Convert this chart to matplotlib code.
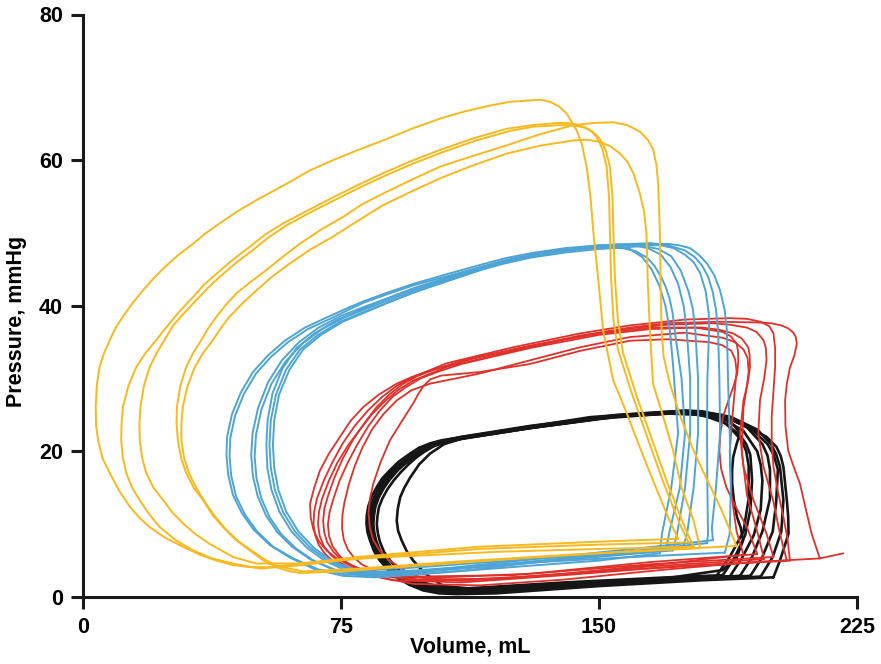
"""
Pressure-volume loops, four conditions overlaid.
"""

import matplotlib
matplotlib.use("Agg")
import matplotlib.pyplot as plt

# ── Axis setup ──────────────────────────────────────────────────────────────
X_TICKS = [0, 75, 150, 225]
Y_TICKS = [0, 20, 40, 60, 80]
X_LABEL = "Volume, mL"
Y_LABEL = "Pressure, mmHg"

# ── Loops, (volume mL, pressure mmHg) ───────────────────────────────────────
yellow_loops = [
    [(173.0, 8.0), (170.5, 10.5), (165.7, 16.0), (161.5, 21.0), (158.1, 25.2), (154.1, 29.8),
     (151.2, 36.6), (149.8, 43.5), (148.4, 49.9), (147.5, 55.0), (146.4, 59.1), (145.0, 62.2),
     (143.5, 64.1), (140.6, 66.4), (138.3, 67.4), (135.8, 68.0), (133.0, 68.3), (130.0, 68.2),
     (124.0, 68.0), (118.3, 67.5), (111.0, 66.7), (103.8, 65.7), (95.5, 64.3), (87.2, 62.7),
     (80.0, 61.4), (72.7, 60.0), (66.0, 58.6), (60.1, 57.0), (50.4, 54.5), (45.0, 53.0),
     (39.7, 51.3), (35.5, 49.9), (32.0, 48.5), (27.5, 46.9), (23.3, 45.1), (20.2, 43.6),
     (17.4, 42.1), (14.3, 40.3), (11.6, 38.5), (9.5, 37.0), (7.8, 35.3), (6.1, 33.5),
     (4.8, 31.6), (4.0, 29.0), (3.7, 26.1), (3.8, 23.6), (4.4, 21.5), (5.7, 19.0),
     (7.8, 17.0), (10.5, 14.6), (13.6, 12.4), (16.4, 10.9), (19.4, 9.6), (24.0, 8.1),
     (29.1, 6.9), (34.0, 5.8), (38.8, 5.0), (43.5, 4.4), (48.5, 4.1), (54.0, 4.1),
     (60.0, 4.4), (80.0, 5.5), (115.0, 6.9), (150.0, 7.6), (173.0, 8.0)],
    [(176.0, 7.5), (173.5, 10.0), (168.5, 16.0), (164.0, 22.0), (159.5, 28.0), (155.5, 34.0),
     (154.2, 38.0), (153.5, 44.0), (153.2, 49.9), (152.9, 55.0), (152.2, 59.1), (151.0, 61.5),
     (149.3, 63.2), (147.2, 64.2), (144.5, 64.8), (141.0, 65.1), (137.7, 65.1), (130.5, 64.8),
     (123.2, 64.3), (113.5, 63.0), (103.8, 61.4), (95.5, 59.9), (87.2, 58.2), (80.0, 56.6),
     (72.7, 54.9), (65.0, 53.0), (58.1, 51.3), (53.0, 49.8), (48.5, 48.1), (43.5, 46.3),
     (38.8, 44.4), (35.2, 42.9), (32.0, 41.2), (28.4, 39.4), (25.2, 37.6), (23.1, 36.4),
     (21.3, 35.3), (18.2, 33.5), (15.5, 31.6), (13.2, 29.0), (11.6, 26.1), (11.2, 23.8),
     (11.1, 21.5), (11.6, 19.1), (12.6, 17.0), (14.3, 15.0), (16.5, 13.3), (19.2, 11.4),
     (22.3, 9.6), (27.0, 7.8), (32.0, 6.4), (37.5, 5.3), (43.6, 4.6), (51.4, 3.9),
     (62.0, 4.3), (80.0, 5.3), (115.0, 6.6), (150.0, 7.2), (176.0, 7.5)],
    [(177.5, 6.9), (175.0, 9.5), (170.0, 15.5), (165.5, 21.5), (161.0, 27.5), (157.0, 33.5),
     (155.5, 38.0), (154.6, 44.0), (154.2, 50.0), (153.9, 55.0), (153.2, 59.0), (152.0, 61.3),
     (150.3, 62.9), (148.2, 63.9), (145.5, 64.5), (142.0, 64.8), (138.5, 64.8), (131.0, 64.6),
     (124.0, 64.0), (114.3, 62.7), (104.6, 61.1), (96.3, 59.6), (88.0, 57.9), (80.7, 56.3),
     (73.5, 54.6), (66.0, 52.8), (59.0, 51.0), (54.0, 49.4), (49.5, 47.7), (44.5, 45.9),
     (39.8, 44.0), (36.2, 42.4), (33.0, 40.8), (29.4, 39.0), (26.2, 37.3), (23.7, 35.3),
     (21.4, 33.5), (19.4, 31.6), (17.7, 29.0), (16.7, 26.1), (16.4, 23.8), (16.5, 21.5),
     (17.2, 19.1), (18.4, 17.0), (20.5, 15.0), (23.3, 13.3), (26.0, 11.6), (29.1, 10.1),
     (32.8, 8.6), (36.8, 7.3), (43.6, 5.5), (50.4, 4.6), (62.0, 4.6), (85.0, 5.4),
     (120.0, 6.2), (150.0, 6.6), (177.5, 6.9)],
    [(190.0, 7.0), (185.2, 12.4), (181.0, 16.5), (177.4, 20.2), (173.5, 25.0), (170.6, 29.3),
     (168.8, 33.0), (168.2, 36.6), (167.9, 43.0), (167.7, 49.9), (167.4, 54.0), (167.2, 56.8),
     (166.7, 59.3), (165.8, 61.4), (164.2, 62.8), (161.9, 63.9), (158.3, 64.8), (154.2, 65.2),
     (148.5, 65.1), (142.5, 64.8), (132.5, 63.5), (123.0, 62.0), (113.5, 60.6), (103.8, 59.1),
     (95.5, 57.3), (87.2, 55.4), (81.0, 53.9), (75.6, 52.2), (69.0, 50.4), (63.0, 48.5),
     (58.0, 46.7), (53.3, 44.9), (48.8, 43.3), (44.6, 41.7), (41.5, 40.1), (38.8, 38.5),
     (36.4, 36.9), (34.4, 35.3), (32.0, 33.5), (30.0, 31.6), (28.3, 29.0), (27.3, 26.1),
     (27.2, 23.8), (27.6, 21.5), (28.5, 19.1), (30.0, 17.0), (32.2, 15.0), (34.9, 13.3),
     (37.6, 11.3), (40.7, 9.6), (44.3, 7.9), (48.5, 6.4), (52.2, 5.1), (56.2, 4.1),
     (59.5, 3.6), (63.0, 3.3), (75.0, 3.5), (100.0, 4.4), (130.0, 5.4), (160.0, 6.3),
     (190.0, 7.0)],
    [(179.4, 6.7), (177.5, 10.5), (174.0, 15.0), (171.5, 20.2), (168.5, 25.0), (165.7, 29.3),
     (164.8, 36.6), (164.2, 43.0), (163.8, 49.9), (163.1, 52.9), (161.9, 55.4), (160.0, 58.2),
     (158.2, 59.8), (156.1, 60.9), (153.3, 61.9), (150.3, 62.5), (146.5, 62.8), (142.5, 62.7),
     (133.0, 62.0), (123.2, 60.9), (113.5, 59.3), (103.8, 57.5), (95.5, 55.7), (87.2, 53.8),
     (80.0, 51.7), (72.7, 49.5), (66.0, 47.7), (60.1, 45.8), (55.0, 44.0), (50.4, 42.1),
     (46.3, 40.3), (42.6, 38.5), (40.0, 36.9), (37.8, 35.3), (34.9, 33.5), (32.5, 31.6),
     (30.4, 29.0), (29.0, 26.1), (28.6, 23.8), (28.6, 21.5), (29.4, 19.1), (30.8, 17.0),
     (33.0, 14.9), (35.5, 13.0), (38.3, 11.1), (41.5, 9.3), (45.3, 7.6), (49.5, 6.2),
     (53.3, 5.0), (57.0, 4.2), (64.0, 3.5), (80.0, 3.9), (110.0, 4.9), (145.0, 5.9),
     (179.4, 6.7)],
]

blue_loops = [
    [(167.7, 6.0), (168.3, 8.7), (171.0, 15.0), (173.0, 22.5), (171.5, 32.0), (170.6, 36.6),
     (169.3, 40.0), (167.5, 42.8), (165.3, 45.0), (162.5, 46.7), (159.0, 47.8), (155.0, 48.3),
     (150.0, 48.3), (140.0, 47.9), (130.0, 47.2), (122.5, 46.5), (115.4, 45.6), (105.5, 44.3),
     (96.0, 43.0), (88.5, 41.8), (81.5, 40.6), (76.5, 39.6), (71.8, 38.6), (64.5, 37.0),
     (58.7, 35.2), (53.8, 33.2), (49.4, 30.9), (45.9, 28.1), (43.3, 25.1), (41.9, 22.0),
     (41.7, 19.5), (42.2, 16.8), (43.6, 14.0), (46.2, 11.5), (49.7, 9.2), (54.4, 7.1),
     (60.2, 5.4), (67.4, 3.8), (75.6, 2.9), (85.0, 2.7), (100.0, 3.2), (130.0, 4.3),
     (150.0, 5.0), (167.7, 6.0)],
    [(171.5, 6.4), (172.7, 8.7), (175.0, 15.0), (176.5, 22.5), (176.5, 30.0), (175.5, 36.6),
     (174.6, 40.0), (173.0, 43.0), (170.8, 45.3), (168.0, 47.0), (164.3, 47.9), (160.0, 48.3),
     (150.0, 48.1), (140.0, 47.6), (130.0, 47.0), (122.5, 46.2), (115.4, 45.3), (105.5, 44.0),
     (96.0, 42.8), (88.5, 41.6), (81.5, 40.4), (77.0, 39.4), (72.7, 38.4), (65.4, 36.8),
     (59.6, 35.0), (54.7, 33.0), (50.3, 30.7), (46.8, 27.9), (44.2, 24.9), (42.8, 21.8),
     (42.6, 19.3), (43.1, 16.6), (44.5, 13.8), (47.1, 11.3), (50.6, 9.0), (55.3, 6.9),
     (61.1, 5.3), (68.3, 3.8), (76.5, 3.1), (85.0, 3.0), (100.0, 3.5), (130.0, 4.7),
     (171.5, 6.4)],
    [(174.4, 6.8), (175.6, 8.7), (177.5, 15.0), (178.8, 22.5), (178.8, 30.0), (178.0, 36.6),
     (177.3, 39.5), (176.0, 42.0), (173.8, 44.8), (171.0, 46.8), (167.3, 47.8), (163.0, 48.2),
     (150.0, 47.8), (140.0, 47.3), (130.0, 46.6), (122.5, 45.8), (115.0, 44.9), (105.5, 43.6),
     (96.0, 42.3), (89.0, 41.1), (82.0, 39.9), (75.0, 38.6), (68.5, 37.0), (62.8, 35.0),
     (57.8, 32.5), (53.8, 29.5), (50.9, 26.0), (49.3, 22.5), (48.9, 19.5), (49.4, 16.6),
     (50.8, 13.8), (53.2, 11.2), (56.5, 8.9), (60.8, 6.9), (66.0, 5.2), (72.5, 3.8),
     (80.0, 3.0), (90.0, 2.9), (110.0, 3.6), (140.0, 5.2), (174.4, 6.8)],
    [(181.4, 7.4), (181.7, 8.7), (181.5, 15.0), (181.4, 22.5), (181.5, 30.0), (182.0, 36.6),
     (181.9, 39.0), (181.0, 42.0), (179.4, 44.5), (177.5, 46.0), (175.0, 47.0), (171.8, 47.9),
     (168.0, 48.3), (155.0, 48.4), (140.0, 47.7), (125.0, 46.3), (117.5, 45.4), (110.0, 44.3),
     (102.5, 43.1), (95.0, 41.9), (89.0, 40.8), (83.0, 39.7), (76.0, 38.4), (69.5, 36.8),
     (63.8, 34.8), (58.8, 32.3), (54.8, 29.3), (51.9, 25.8), (50.3, 22.3), (49.9, 19.3),
     (50.4, 16.4), (51.8, 13.6), (54.2, 11.0), (57.5, 8.7), (61.8, 6.7), (67.0, 5.0),
     (73.5, 3.7), (81.0, 3.2), (90.0, 3.2), (120.0, 4.4), (150.0, 5.8), (181.4, 7.4)],
    [(183.1, 7.8), (182.8, 9.5), (184.0, 15.0), (185.2, 22.5), (185.0, 30.0), (184.6, 36.6),
     (184.0, 39.5), (183.0, 42.0), (181.7, 44.0), (180.0, 45.5), (177.8, 46.7), (175.0, 47.6),
     (170.0, 48.3), (165.0, 48.6), (150.0, 48.3), (140.0, 47.8), (130.0, 47.0), (122.5, 46.2),
     (115.0, 45.2), (105.5, 43.8), (96.0, 42.4), (88.5, 41.0), (81.0, 39.5), (73.7, 38.0),
     (67.3, 36.2), (62.1, 34.2), (58.0, 31.4), (55.1, 28.0), (53.7, 24.4), (53.3, 20.9),
     (53.6, 17.7), (54.8, 14.7), (57.1, 11.7), (60.6, 9.0), (65.0, 6.8), (70.2, 5.0),
     (76.6, 3.6), (85.0, 3.3), (95.0, 3.4), (125.0, 4.9), (160.0, 6.6), (183.1, 7.8)],
    [(186.6, 6.1), (188.0, 8.7), (188.3, 15.0), (188.0, 22.5), (187.5, 30.0), (187.2, 36.6),
     (186.5, 39.5), (185.2, 42.1), (183.5, 44.2), (181.4, 45.8), (179.0, 47.0), (176.5, 47.9),
     (173.3, 48.3), (170.0, 48.5), (155.0, 48.4), (140.0, 47.7), (125.0, 46.3), (117.5, 45.3),
     (110.0, 44.2), (103.0, 43.0), (96.0, 41.8), (89.0, 40.5), (82.0, 39.2), (74.7, 37.8),
     (68.3, 36.0), (63.1, 34.0), (59.0, 31.2), (56.1, 27.8), (54.6, 24.3), (54.2, 20.9),
     (54.6, 17.7), (55.8, 14.7), (58.1, 11.7), (61.6, 9.0), (66.0, 6.8), (71.2, 5.0),
     (77.6, 3.7), (85.0, 3.5), (95.0, 3.6), (125.0, 4.6), (160.0, 5.5), (186.6, 6.1)],
    [(169.5, 6.5), (170.5, 9.0), (173.5, 15.0), (175.0, 22.5), (174.0, 30.0), (172.0, 36.6),
     (171.4, 39.0), (170.5, 41.0), (169.3, 42.7), (168.0, 44.0), (166.1, 45.5), (164.0, 46.6),
     (160.6, 47.5), (157.0, 47.9), (150.0, 48.0), (140.0, 47.5), (130.0, 46.8), (122.5, 45.9),
     (115.0, 44.8), (105.5, 43.3), (96.0, 41.8), (89.0, 40.5), (82.5, 39.2), (75.5, 37.8),
     (69.2, 36.0), (64.0, 34.0), (60.0, 31.2), (57.0, 27.8), (55.6, 24.3), (55.2, 20.9),
     (55.6, 17.7), (56.8, 14.7), (59.1, 11.7), (62.6, 9.0), (67.0, 6.8), (72.2, 5.0),
     (78.6, 3.8), (86.0, 3.8), (95.0, 4.0), (130.0, 5.2), (169.5, 6.5)],
]

red_loops = [
    [(221.0, 6.0), (214.2, 5.3), (211.8, 8.7), (210.0, 12.3), (208.4, 15.6), (206.5, 18.0),
     (205.0, 20.1), (204.2, 23.5), (204.1, 27.0), (204.6, 29.3), (205.5, 31.5), (206.8, 33.2),
     (207.5, 34.8), (207.2, 35.7), (206.5, 36.3), (205.0, 36.9), (203.0, 37.3), (200.0, 37.6),
     (196.8, 37.7), (185.0, 37.8), (170.0, 37.6), (159.0, 37.0), (144.5, 35.9), (125.1, 34.0),
     (115.4, 33.0), (100.9, 31.1), (95.5, 30.2), (91.2, 29.3), (86.0, 27.8), (81.5, 26.1),
     (77.8, 24.2), (74.7, 22.0), (71.5, 19.7), (68.9, 17.4), (67.2, 15.0), (66.0, 12.8),
     (66.2, 10.9), (67.0, 9.2), (68.5, 7.7), (70.8, 6.4), (73.5, 5.4), (76.6, 4.6),
     (81.0, 3.5), (86.3, 2.7), (96.0, 1.8), (115.4, 1.6), (140.0, 2.4), (170.0, 3.8),
     (195.0, 4.8), (214.2, 5.3)],
    [(205.5, 5.0), (204.8, 8.0), (203.6, 11.0), (202.0, 14.5), (200.7, 17.9), (200.2, 21.3),
     (200.2, 24.7), (200.7, 28.2), (201.2, 31.6), (201.2, 34.2), (200.7, 36.2), (199.5, 37.2),
     (197.0, 37.8), (193.0, 38.2), (188.0, 38.3), (175.0, 38.1), (159.0, 37.3), (144.5, 36.2),
     (125.1, 34.3), (105.7, 32.1), (95.9, 30.2), (91.2, 29.0), (87.0, 27.5), (82.8, 25.6),
     (79.0, 23.5), (75.5, 21.1), (72.5, 18.5), (70.0, 16.0), (68.0, 13.5), (67.2, 11.7),
     (67.0, 10.0), (67.5, 8.5), (68.5, 7.2), (70.2, 6.0), (72.5, 5.0), (75.5, 4.2),
     (79.0, 3.5), (90.0, 2.3), (110.0, 2.0), (140.0, 3.0), (175.0, 4.3), (205.5, 5.0)],
    [(204.6, 5.0), (202.6, 8.7), (200.6, 13.3), (197.8, 17.9), (196.3, 22.4), (196.8, 27.0),
     (198.0, 30.0), (198.7, 32.5), (198.5, 34.2), (197.8, 35.3), (195.8, 36.4), (193.0, 37.0),
     (188.0, 37.4), (183.0, 37.6), (170.0, 37.4), (159.0, 36.9), (144.5, 35.8), (125.1, 33.8),
     (105.7, 31.6), (95.9, 29.7), (91.8, 28.5), (88.0, 27.0), (84.0, 25.1), (80.5, 23.0),
     (77.0, 20.8), (74.0, 18.5), (71.5, 16.0), (69.5, 13.5), (68.6, 11.7), (68.3, 10.0),
     (68.8, 8.4), (70.0, 7.0), (72.0, 5.8), (74.5, 4.8), (78.0, 3.9), (82.0, 3.2),
     (95.0, 2.4), (120.0, 2.5), (160.0, 3.8), (204.6, 5.0)],
    [(200.7, 5.5), (198.7, 8.7), (194.9, 13.3), (192.0, 17.9), (191.0, 22.4), (192.0, 27.0),
     (193.3, 29.5), (193.9, 31.6), (193.8, 33.2), (193.4, 34.3), (191.5, 35.5), (189.0, 36.2),
     (185.0, 36.7), (180.0, 37.0), (165.0, 37.0), (150.0, 36.2), (130.0, 34.5), (110.0, 32.4),
     (102.5, 31.3), (97.0, 30.3), (92.8, 29.2), (89.0, 27.8), (85.2, 26.0), (82.0, 24.0),
     (78.5, 21.6), (75.5, 19.0), (73.1, 16.4), (71.3, 14.0), (70.2, 12.2), (69.8, 10.5),
     (70.1, 8.9), (71.0, 7.5), (72.8, 6.2), (75.0, 5.2), (78.3, 4.3), (82.0, 3.6),
     (95.0, 2.8), (125.0, 3.0), (165.0, 4.5), (200.7, 5.5)],
    [(196.0, 5.9), (193.0, 9.6), (189.5, 12.6), (187.0, 15.1), (185.5, 17.6), (185.0, 20.1),
     (185.3, 22.5), (186.0, 24.7), (187.5, 26.8), (189.0, 28.8), (190.2, 30.7), (190.5, 32.5),
     (190.4, 33.8), (190.0, 34.8), (188.3, 35.8), (186.0, 36.4), (178.0, 37.0), (165.0, 36.8),
     (150.0, 36.0), (130.0, 34.2), (110.0, 32.0), (103.5, 31.0), (98.0, 30.0), (93.8, 28.8),
     (90.0, 27.5), (86.3, 25.6), (83.0, 23.5), (79.8, 21.0), (77.0, 18.5), (74.6, 16.0),
     (72.8, 13.5), (71.7, 11.7), (71.2, 10.0), (71.5, 8.4), (72.5, 7.0), (74.5, 5.7),
     (77.0, 4.6), (80.8, 3.8), (85.0, 3.2), (100.0, 2.6), (130.0, 3.2), (165.0, 4.8),
     (196.0, 5.9)],
    [(198.0, 5.2), (196.0, 9.0), (193.0, 14.0), (191.5, 20.0), (192.0, 26.0), (193.0, 29.0),
     (193.5, 31.0), (193.2, 32.8), (192.0, 34.0), (189.5, 35.0), (186.0, 35.6), (175.0, 36.3),
     (159.0, 35.7), (144.5, 34.3), (129.9, 32.5), (115.4, 30.7), (100.9, 29.3), (95.5, 28.4),
     (91.2, 27.0), (87.3, 25.1), (84.0, 23.0), (81.2, 20.5), (79.0, 18.0), (77.3, 15.5),
     (76.0, 13.0), (75.4, 11.2), (75.3, 9.5), (75.8, 7.9), (77.0, 6.5), (78.8, 5.4),
     (81.0, 4.5), (84.3, 3.7), (88.0, 3.0), (100.0, 2.2), (130.0, 2.8), (165.0, 4.2),
     (198.0, 5.2)],
    [(192.0, 5.8), (190.0, 9.0), (188.5, 14.0), (188.0, 20.0), (189.0, 26.0), (190.0, 31.0),
     (189.6, 32.6), (188.5, 33.8), (185.8, 34.6), (182.0, 35.0), (170.0, 35.4), (159.0, 35.2),
     (144.5, 33.8), (129.9, 32.0), (115.4, 30.9), (104.0, 30.4), (101.0, 29.9), (99.0, 29.0),
     (97.5, 27.9), (96.0, 26.6), (92.5, 24.0), (89.2, 21.5), (86.5, 18.5), (84.4, 15.6),
     (83.4, 13.5), (83.0, 11.5), (83.4, 9.5), (84.4, 7.8), (86.5, 6.2), (89.2, 5.0),
     (93.3, 3.7), (97.9, 2.7), (110.0, 2.2), (140.0, 3.2), (170.0, 4.6), (192.0, 5.8)],
]

black_loops = [
    [(200.7, 2.7), (202.6, 5.0), (205.1, 8.7), (205.0, 11.0), (204.6, 13.3), (203.6, 17.9),
     (202.8, 19.4), (201.6, 20.6), (198.7, 22.0), (192.9, 23.4), (185.2, 25.0), (180.0, 25.5),
     (175.5, 25.6), (156.1, 25.0), (147.4, 24.7), (129.9, 23.4), (110.6, 22.0), (104.0, 21.5),
     (100.9, 21.1), (97.7, 20.5), (95.1, 19.7), (91.8, 18.6), (89.2, 17.4), (87.0, 16.3),
     (85.4, 15.1), (83.9, 13.8), (82.9, 12.4), (82.5, 11.2), (82.4, 10.1), (82.7, 8.9),
     (83.4, 7.8), (84.6, 6.3), (86.3, 5.0), (88.6, 3.8), (91.2, 2.7), (94.8, 1.7),
     (98.9, 0.9), (103.5, 0.5), (108.6, 0.4), (120.0, 0.5), (150.0, 1.5), (180.0, 2.3),
     (200.7, 2.7)],
    [(197.0, 2.8), (200.5, 5.5), (203.0, 9.0), (203.6, 13.3), (202.6, 17.9), (201.5, 19.6),
     (200.0, 21.0), (196.0, 23.0), (188.0, 24.8), (175.5, 25.4), (156.0, 24.8), (130.0, 23.2),
     (110.6, 21.8), (104.5, 21.3), (101.0, 20.8), (98.0, 20.1), (95.5, 19.3), (92.5, 18.3),
     (90.0, 17.2), (87.8, 16.0), (86.0, 14.8), (84.5, 13.5), (83.5, 12.2), (83.1, 11.1),
     (82.9, 10.0), (83.2, 8.8), (83.8, 7.6), (85.0, 6.1), (86.8, 4.8), (89.1, 3.6),
     (91.8, 2.5), (95.5, 1.6), (99.5, 1.0), (110.0, 0.6), (140.0, 1.4), (170.0, 2.2),
     (197.0, 2.8)],
    [(194.0, 2.9), (197.5, 5.5), (200.5, 9.0), (201.5, 13.0), (202.0, 17.5), (200.8, 19.5),
     (199.0, 21.0), (194.0, 23.2), (186.0, 24.9), (175.0, 25.5), (155.0, 24.9), (130.0, 23.3),
     (110.0, 21.8), (104.5, 21.2), (101.0, 20.6), (98.3, 19.9), (96.0, 19.0), (93.0, 18.1),
     (90.5, 17.0), (88.3, 15.8), (86.5, 14.6), (85.0, 13.3), (84.0, 12.0), (83.6, 10.9),
     (83.4, 9.8), (83.7, 8.6), (84.3, 7.4), (85.5, 5.9), (87.3, 4.6), (89.6, 3.4),
     (92.3, 2.4), (96.0, 1.7), (100.0, 1.2), (110.0, 0.8), (140.0, 1.6), (170.0, 2.4),
     (194.0, 2.9)],
    [(191.0, 2.9), (194.5, 5.5), (197.5, 9.0), (199.7, 13.5), (199.7, 17.5), (199.0, 19.4),
     (197.5, 21.0), (193.0, 23.3), (186.0, 25.0), (175.0, 25.6), (155.0, 25.0), (130.0, 23.5),
     (110.0, 22.0), (105.0, 21.5), (101.5, 21.0), (98.6, 20.3), (96.0, 19.5), (93.4, 18.5),
     (91.0, 17.3), (88.8, 16.1), (87.0, 14.8), (85.5, 13.5), (84.5, 12.2), (84.1, 11.1),
     (83.9, 9.9), (84.2, 8.7), (84.8, 7.5), (86.0, 6.1), (87.8, 4.8), (90.1, 3.6),
     (92.8, 2.6), (96.5, 1.8), (100.5, 1.3), (110.0, 0.9), (140.0, 1.8), (170.0, 2.5),
     (191.0, 2.9)],
    [(188.0, 2.8), (191.5, 5.3), (195.0, 8.5), (197.0, 12.0), (197.5, 16.0), (197.0, 18.2),
     (196.0, 20.0), (192.0, 22.8), (185.0, 24.8), (175.0, 25.5), (155.0, 24.9), (130.0, 23.4),
     (110.0, 21.9), (105.5, 21.5), (102.0, 21.0), (99.0, 20.3), (96.5, 19.5), (93.9, 18.5),
     (91.5, 17.4), (89.3, 16.2), (87.5, 15.0), (86.0, 13.7), (85.0, 12.4), (84.6, 11.2),
     (84.4, 10.0), (84.7, 8.8), (85.3, 7.6), (86.5, 6.2), (88.3, 4.9), (90.6, 3.7),
     (93.3, 2.7), (97.0, 1.9), (101.0, 1.4), (112.0, 1.0), (140.0, 1.9), (170.0, 2.5),
     (188.0, 2.8)],
    [(186.0, 3.0), (189.5, 5.5), (192.5, 8.5), (194.0, 12.0), (194.5, 16.0), (194.0, 19.5),
     (192.8, 21.0), (191.0, 22.2), (185.0, 24.5), (175.0, 25.3), (155.0, 24.8), (130.0, 23.2),
     (110.0, 21.7), (105.5, 21.3), (102.0, 20.7), (99.4, 20.0), (97.0, 19.2), (94.6, 18.2),
     (92.5, 17.2), (90.3, 16.0), (88.5, 14.8), (87.0, 13.5), (86.0, 12.3), (85.6, 11.1),
     (85.4, 10.0), (85.7, 8.8), (86.3, 7.6), (87.5, 6.2), (89.3, 5.0), (91.6, 3.8),
     (94.3, 2.8), (98.0, 2.1), (102.0, 1.6), (112.0, 1.2), (140.0, 2.0), (170.0, 2.7),
     (186.0, 3.0)],
    [(186.0, 3.7), (190.0, 5.4), (191.9, 7.8), (191.2, 9.5), (190.1, 11.0), (189.2, 13.3),
     (188.7, 15.6), (188.7, 17.5), (189.0, 19.2), (190.0, 21.0), (191.0, 22.5), (189.0, 23.7),
     (186.0, 24.6), (175.0, 25.4), (155.0, 24.8), (130.0, 23.3), (110.0, 21.9), (104.5, 21.4),
     (101.0, 20.9), (98.0, 20.2), (95.5, 19.5), (92.4, 18.4), (89.5, 17.3), (87.5, 16.1),
     (85.8, 14.9), (84.5, 13.5), (83.5, 12.2), (83.2, 11.1), (83.0, 10.0), (83.3, 8.8),
     (84.0, 7.7), (85.2, 6.2), (87.0, 4.9), (89.3, 3.7), (92.0, 2.6), (95.5, 1.7),
     (99.5, 1.0), (110.0, 0.5), (140.0, 1.5), (170.0, 2.6), (186.0, 3.7)],
    [(184.0, 2.8), (188.0, 5.5), (192.0, 9.0), (193.5, 13.5), (193.5, 18.0), (192.8, 20.0),
     (191.5, 21.5), (187.0, 23.8), (180.0, 25.0), (170.0, 25.2), (150.0, 24.5), (130.0, 23.2),
     (110.5, 21.8), (105.0, 21.0), (100.9, 19.7), (97.7, 18.2), (95.1, 16.4), (93.4, 15.0),
     (92.2, 13.7), (91.5, 12.1), (91.2, 10.5), (91.6, 9.1), (92.6, 7.8), (94.1, 6.3),
     (96.0, 5.0), (98.3, 3.8), (100.9, 2.7), (104.5, 1.6), (108.6, 0.9), (120.0, 0.7),
     (150.0, 1.6), (184.0, 2.8)],
]

# ── Style ───────────────────────────────────────────────────────────────────
BLACK  = "#161616"
RED    = "#e0302a"
BLUE   = "#4ea5d5"
YELLOW = "#f8b91e"
FONT   = ["Liberation Sans", "DejaVu Sans"]


def draw_loops(ax, loops, color, lw):
    for loop in loops:
        v = [p[0] for p in loop]
        p = [p[1] for p in loop]
        ax.plot(v, p, "-", color=color, lw=lw, solid_joinstyle="round",
                solid_capstyle="round")


def main():
    plt.rcParams["font.family"] = FONT
    fig = plt.figure(figsize=(8.81, 6.64), dpi=100)
    ax = fig.add_axes([83 / 881, 67 / 664, 774 / 881, 582.5 / 664])

    # drawing order: black under, yellow on top
    draw_loops(ax, black_loops, BLACK, 1.9)
    draw_loops(ax, red_loops, RED, 1.3)
    draw_loops(ax, blue_loops, BLUE, 1.4)
    draw_loops(ax, yellow_loops, YELLOW, 1.4)

    ax.set_xlim(0, 225)
    ax.set_ylim(0, 80)
    ax.set_xticks(X_TICKS)
    ax.set_yticks(Y_TICKS)
    ax.spines["top"].set_visible(False)
    ax.spines["right"].set_visible(False)
    for s in ("left", "bottom"):
        ax.spines[s].set_linewidth(2.2)
        ax.spines[s].set_color("#1a1a1a")
    ax.tick_params(length=8.5, width=2.2, color="#1a1a1a", pad=6,
                   labelsize=15.5)
    for lab in ax.get_xticklabels() + ax.get_yticklabels():
        lab.set_fontweight("bold")

    ax.set_xlabel(X_LABEL, fontsize=15.5, fontweight="bold")
    ax.set_ylabel(Y_LABEL, fontsize=15.5, fontweight="bold")
    ax.xaxis.set_label_coords(0.5, -0.068)
    ax.yaxis.set_label_coords(-0.072, 0.473)

    fig.savefig("out.png", dpi=100)


if __name__ == "__main__":
    main()
